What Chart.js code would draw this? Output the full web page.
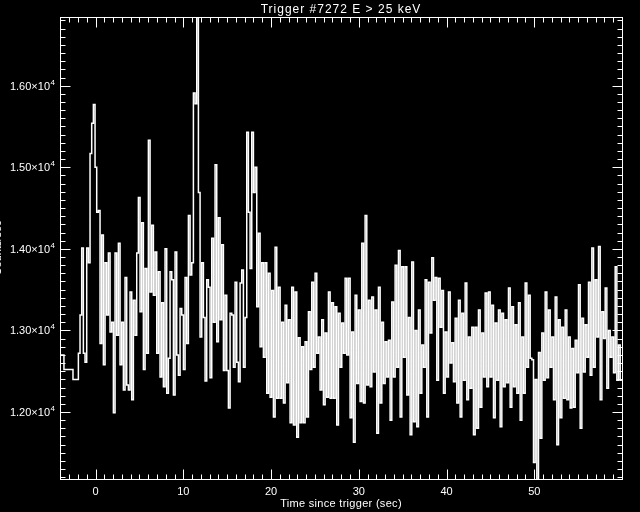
<!DOCTYPE html>
<html lang="en">
<head>
<meta charset="UTF-8">
<title>Trigger #7272 E > 25 keV</title>
<script src="https://cdn.jsdelivr.net/npm/chart.js@4"></script>
<style>
  html, body { margin: 0; padding: 0; background: #000; }
  canvas { display: block; }
</style>
</head>
<body>
<canvas id="lightCurve" width="640" height="512"></canvas>
<script>
// pre-trigger 1.024 s bins (bin start times, sec) and their rates
var preTimes = [-4.096, -3.6, -2.57];
var preRates = [12700, 12520, 12400];

// fine-resolution bins after -1.956 s
var fineStart = -1.956;
var fineBin = 0.19;
var rates = [
    12720, 13190, 14010, 12720, 12610, 14010, 13830, 15170, 15540, 15770,
    15000, 14450, 14470, 12840, 14170, 12580, 13830, 13190, 13950, 12980,
    13100, 11990, 13950, 12940, 14070, 12580, 13100, 12270, 13650, 12330,
    12270, 13470, 12150, 13370, 12940, 13950, 14630, 13230, 14320, 12520,
    13760, 12720, 15330, 13470, 14290, 13430, 13960, 12720, 13720, 12430,
    13340, 12310, 14000, 12230, 12660, 13720, 13620, 12210, 13960, 12700,
    12450, 13270, 13190, 12520, 13650, 12840, 14410, 13680, 13830, 15910,
    15780, 16840, 14690, 12920, 13830, 13160, 12380, 13620, 13530, 12420,
    14130, 13100, 15030, 12860, 14380, 13130, 14050, 12510, 13430, 12510,
    12050, 13210, 13190, 12550, 13590, 12610, 12370, 13580, 13740, 12550,
    13160, 15430, 14450, 13760, 15430, 14690, 15000, 13290, 14190, 12800,
    13830, 12670, 13830, 12230, 13700, 12180, 13490, 11940, 14020, 12170,
    13530, 12170, 13100, 12110, 13310, 12360, 13130, 11870, 13530, 11840,
    13470, 11690, 12910, 11870, 12800, 11870, 12860, 11940, 13230, 12520,
    13590, 12550, 13700, 12720, 12920, 12270, 13130, 12090, 12970, 12180,
    13470, 12170, 13340, 12170, 13290, 11840, 13210, 12550, 13090, 12720,
    13640, 12700, 13640, 11930, 12980, 11630, 13430, 12350, 13250, 12130,
    14070, 12110, 14410, 12330, 13370, 12310, 13410, 12490, 13250, 11740,
    13530, 12110, 13100, 12350, 12860, 12430, 12880, 11900, 13350, 12430,
    13800, 12550, 13980, 11940, 13780, 12670, 13780, 12210, 13160, 11720,
    13840, 11880, 13000, 11820, 13250, 12230, 12820, 12550, 13620, 11940,
    13590, 12970, 13890, 13370, 13650, 12390, 13640, 13040, 13490, 12230,
    12980, 12430, 13470, 12600, 12850, 12370, 13150, 12110, 13370, 11940,
    13210, 12390, 13580, 12150, 12920, 12290, 13040, 11720, 13040, 11800,
    13250, 12060, 12970, 12430, 13460, 12310, 13470, 12430, 13310, 11930,
    13090, 12390, 13250, 11820, 13210, 12310, 13130, 12360, 13520, 12060,
    13290, 12310, 13070, 12230, 13340, 11900, 12920, 12230, 13580, 12550,
    13430, 12660, 12640, 11380, 12400, 11050, 12730, 11680, 12970, 12390,
    13470, 12420, 13250, 12550, 12920, 12150, 13410, 11600, 13130, 11930,
    13040, 12170, 13250, 12150, 12920, 12050, 12780, 12060, 12880, 12480,
    13560, 11800, 13150, 12490, 13070, 12670, 13590, 12450, 14010, 12550,
    13620, 12920, 14030, 12150, 13230, 12900, 13520, 12290, 13000, 12670,
    12920, 12480, 13780, 12390, 12820, 12390
];

var xMin = -4.05, xMax = 60;
var yMin = 11179, yMax = 16842;
var xTicks = [0, 10, 20, 30, 40, 50];
var yTicks = [12000, 13000, 14000, 15000, 16000];
var yTickLabels = ['1.20\u00d710', '1.30\u00d710', '1.40\u00d710', '1.50\u00d710', '1.60\u00d710'];
var yTickExp = '4';

var titleText = 'Trigger #7272 E > 25 keV';
var xTitle = 'Time since trigger (sec)';
var yTitle = 'Counts/sec';

// step points: each point is the start of a bin
var points = preTimes.map(function (t, i) { return { x: t, y: preRates[i] }; });
rates.forEach(function (r, i) { points.push({ x: fineStart + i * fineBin, y: r }); });
points.push({ x: fineStart + rates.length * fineBin, y: rates[rates.length - 1] });

var idlAxes = {
    id: 'idlAxes',
    beforeDraw: function (chart) {
        var ctx = chart.ctx;
        ctx.save();
        ctx.fillStyle = '#000';
        ctx.fillRect(0, 0, chart.width, chart.height);
        ctx.restore();
    },
    afterDraw: function (chart) {
        var ctx = chart.ctx, a = chart.chartArea;
        var xs = chart.scales.x, ys = chart.scales.y;
        var L = Math.round(a.left) + 0.5, R = Math.round(a.right) + 0.5;
        var T = Math.round(a.top) + 0.5, B = Math.round(a.bottom) + 0.5;
        ctx.save();
        ctx.strokeStyle = '#fff';
        ctx.fillStyle = '#fff';
        ctx.lineWidth = 1;
        ctx.strokeRect(L, T, R - L, B - T);

        ctx.beginPath();
        // x ticks, inward on bottom and top
        for (var s = -4; s <= 60; s++) {
            var px = Math.round(xs.getPixelForValue(s)) + 0.5;
            var len = s % 10 === 0 ? 10 : 5;
            ctx.moveTo(px, B); ctx.lineTo(px, B - len);
            ctx.moveTo(px, T); ctx.lineTo(px, T + len);
        }
        // y ticks, inward on left and right
        for (var c = 112; c <= 168; c++) {
            var py = Math.round(ys.getPixelForValue(c * 100)) + 0.5;
            var ylen = c % 10 === 0 ? 10 : 5;
            ctx.moveTo(L, py); ctx.lineTo(L + ylen, py);
            ctx.moveTo(R, py); ctx.lineTo(R - ylen, py);
        }
        ctx.stroke();

        // x tick labels
        ctx.font = '11px "Liberation Sans", Arial, sans-serif';
        ctx.textAlign = 'center';
        ctx.textBaseline = 'middle';
        xTicks.forEach(function (t) {
            ctx.fillText(String(t), xs.getPixelForValue(t), 492);
        });

        // y tick labels with superscript exponent
        yTicks.forEach(function (v, i) {
            var py = ys.getPixelForValue(v);
            ctx.font = '11px "Liberation Sans", Arial, sans-serif';
            ctx.textAlign = 'right';
            ctx.textBaseline = 'alphabetic';
            ctx.fillText(yTickLabels[i], 50, py + 4);
            ctx.font = '8px "Liberation Sans", Arial, sans-serif';
            ctx.textAlign = 'left';
            ctx.fillText(yTickExp, 50.5, py - 1);
        });

        // titles
        ctx.textAlign = 'center';
        ctx.textBaseline = 'middle';
        ctx.font = '12px "Liberation Sans", Arial, sans-serif';
        ctx.letterSpacing = '1px';
        ctx.fillText(titleText, (a.left + a.right) / 2, 10);
        ctx.font = '11px "Liberation Sans", Arial, sans-serif';
        ctx.letterSpacing = '0.3px';
        ctx.fillText(xTitle, (a.left + a.right) / 2, 504);
        ctx.letterSpacing = '0px';

        ctx.translate(1, (a.top + a.bottom) / 2);
        ctx.rotate(-Math.PI / 2);
        ctx.textBaseline = 'alphabetic';
        ctx.fillText(yTitle, 0, 0);
        ctx.restore();
    }
};

var ctxCurve = document.getElementById('lightCurve').getContext('2d');
var lightCurve = new Chart(ctxCurve, {
    type: 'line',
    data: {
        datasets: [{
            data: points,
            stepped: true,
            borderColor: '#ffffff',
            borderWidth: 1.5,
            pointRadius: 0,
            fill: false
        }]
    },
    options: {
        responsive: false,
        animation: false,
        devicePixelRatio: 1,
        layout: { padding: { left: 60, right: 18, top: 17, bottom: 33 } },
        scales: {
            x: { type: 'linear', min: xMin, max: xMax, display: false },
            y: { type: 'linear', min: yMin, max: yMax, display: false }
        },
        plugins: { legend: { display: false }, tooltip: { enabled: false } }
    },
    plugins: [idlAxes]
});
</script>
</body>
</html>
